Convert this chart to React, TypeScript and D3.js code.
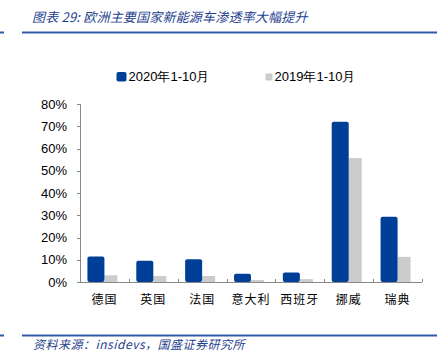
import React from "react";
import * as d3 from "d3";

const categories = ["德国", "英国", "法国", "意大利", "西班牙", "挪威", "瑞典"];
const series2020 = [11.5, 9.6, 10.2, 3.7, 4.3, 72.0, 29.3];
const series2019 = [3.0, 2.7, 2.7, 0.9, 1.3, 55.7, 11.3];
const yTicks = [0, 10, 20, 30, 40, 50, 60, 70, 80];
const legendLabels = ["2020年1-10月", "2019年1-10月"];
const titleText = "图表 29: 欧洲主要国家新能源车渗透率大幅提升";
const sourceText = "资料来源：insidevs，国盛证券研究所";

const BLUE = "#003f98";
const GRAY = "#cccccc";
const TEXT_BLUE = "#1f3f8f";
const LINE_BLUE = "#2e5aa8";

export default function App() {
  const W = 437, H = 356;
  const left = 80, right = 422, top = 104, bottom = 282;
  const x = d3.scaleBand<string>().domain(categories).range([left, right]).padding(0);
  const y = d3.scaleLinear().domain([0, 80]).range([bottom, top]);
  const cjk = "'Noto Sans CJK SC', sans-serif";
  const latin = "'Liberation Sans', Arial, sans-serif";
  return (
    <svg width={W} height={H} style={{ position: "absolute", left: 0, top: 0, background: "#fff" }}>
      {/* header */}
      <text x={32} y={22} fill={TEXT_BLUE} fontSize={13} fontStyle="italic" fontFamily={cjk} letterSpacing={0.2}>{titleText}</text>
      <line x1={0} x2={4} y1={32.5} y2={32.5} stroke={LINE_BLUE} strokeWidth={2} />
      <line x1={22} x2={437} y1={32.5} y2={32.5} stroke={LINE_BLUE} strokeWidth={2} />
      {/* legend */}
      <rect x={116.5} y={72} width={10} height={9.5} rx={2} fill={BLUE} />
      <text x={128.5} y={81} fontSize={13} fontFamily={latin} fill="#000">{legendLabels[0]}</text>
      <rect x={265.5} y={73.5} width={7} height={7} fill={GRAY} />
      <text x={274.5} y={81} fontSize={13} fontFamily={latin} fill="#000">{legendLabels[1]}</text>
      {/* y axis */}
      <line x1={left + 0.5} x2={left + 0.5} y1={top} y2={bottom} stroke="#888" />
      {yTicks.map((t) => (
        <g key={t}>
          <line x1={left - 3} x2={left} y1={Math.round(y(t)) + 0.5} y2={Math.round(y(t)) + 0.5} stroke="#888" />
          <text x={67} y={y(t) + 4.5} textAnchor="end" fontSize={13} fontFamily={latin} fill="#000">{t}%</text>
        </g>
      ))}
      {/* bars */}
      {categories.map((c, i) => {
        const cx = (x(c) as number) + x.bandwidth() / 2;
        return (
          <g key={c}>
            <rect x={cx} y={y(series2019[i])} width={13} height={bottom - y(series2019[i])} fill={GRAY} />
            <rect x={cx - 17} y={y(series2020[i])} width={17} height={bottom - y(series2020[i])} rx={2} fill={BLUE} />
          </g>
        );
      })}
      {/* x axis */}
      <line x1={left} x2={right} y1={bottom + 0.5} y2={bottom + 0.5} stroke="#888" />
      {categories.map((c) => (
        <line key={"t" + c} x1={Math.round((x(c) as number) + x.bandwidth()) + 0.5} x2={Math.round((x(c) as number) + x.bandwidth()) + 0.5} y1={bottom - 3} y2={bottom} stroke="#888" />
      ))}
      {categories.map((c) => (
        <text key={"l" + c} x={(x(c) as number) + x.bandwidth() / 2} y={304} textAnchor="middle" fontSize={12} fontFamily={cjk} fill="#000" letterSpacing={1}>{c}</text>
      ))}
      {/* footer */}
      <line x1={0} x2={4} y1={335.5} y2={335.5} stroke={LINE_BLUE} strokeWidth={2} />
      <line x1={22} x2={437} y1={335.5} y2={335.5} stroke={LINE_BLUE} strokeWidth={2} />
      <text x={33} y={349} fill={TEXT_BLUE} fontSize={12} fontStyle="italic" fontFamily={cjk} letterSpacing={0.5}>{sourceText}</text>
    </svg>
  );
}
